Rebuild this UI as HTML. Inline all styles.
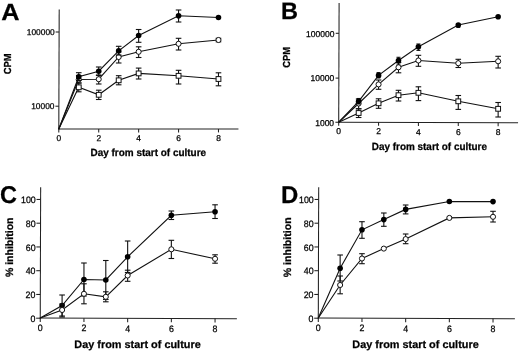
<!DOCTYPE html>
<html><head><meta charset="utf-8"><title>Figure</title>
<style>
html,body{margin:0;padding:0;background:#fff;overflow:hidden;}
svg{display:block;filter:grayscale(1);}
text{font-family:"Liberation Sans",sans-serif;fill:#000;stroke:#000;stroke-width:0.25px;text-rendering:geometricPrecision;}
</style></head><body>
<svg width="520" height="352" viewBox="0 0 520 352">
<rect x="0" y="0" width="520" height="352" fill="#fff"/>
<line x1="59.2" y1="9.5" x2="58.8" y2="129.6" stroke="#222" stroke-width="1.05"/>
<line x1="58.2" y1="129" x2="238.44" y2="129" stroke="#222" stroke-width="1.05"/>
<line x1="58.8" y1="129" x2="58.8" y2="132.4" stroke="#222" stroke-width="1.05"/>
<text x="58.8" y="140.6" font-size="8.4" text-anchor="middle">0</text>
<line x1="98.72" y1="129" x2="98.72" y2="132.4" stroke="#222" stroke-width="1.05"/>
<text x="98.72" y="140.6" font-size="8.4" text-anchor="middle">2</text>
<line x1="138.64" y1="129" x2="138.64" y2="132.4" stroke="#222" stroke-width="1.05"/>
<text x="138.64" y="140.6" font-size="8.4" text-anchor="middle">4</text>
<line x1="178.56" y1="129" x2="178.56" y2="132.4" stroke="#222" stroke-width="1.05"/>
<text x="178.56" y="140.6" font-size="8.4" text-anchor="middle">6</text>
<line x1="218.48" y1="129" x2="218.48" y2="132.4" stroke="#222" stroke-width="1.05"/>
<text x="218.48" y="140.6" font-size="8.4" text-anchor="middle">8</text>
<line x1="55.62" y1="32" x2="59.12" y2="32" stroke="#222" stroke-width="1.05"/>
<text x="54.72" y="35.12" font-size="8.4" text-anchor="end">100000</text>
<line x1="55.38" y1="106.2" x2="58.88" y2="106.2" stroke="#222" stroke-width="1.05"/>
<text x="54.48" y="109.32" font-size="8.4" text-anchor="end">10000</text>
<text x="148.3" y="156" font-size="10.4" text-anchor="middle" font-weight="bold" textLength="115.6" lengthAdjust="spacingAndGlyphs">Day from start of culture</text>
<text x="11.1" y="63.75" font-size="10.2" text-anchor="middle" font-weight="bold" transform="rotate(-90 11.1 63.75)" textLength="20.8" lengthAdjust="spacingAndGlyphs">CPM</text>
<text x="1.2" y="19.6" font-size="23.4" text-anchor="start" font-weight="bold" textLength="18.3" lengthAdjust="spacingAndGlyphs" stroke-width="0.8">A</text>
<polyline points="58.8,129 78.76,87.3 98.72,94.8 118.68,80.3 138.64,73.4 178.56,75.8 218.48,79" fill="none" stroke="#111" stroke-width="1.1"/>
<line x1="78.76" y1="83" x2="78.76" y2="91.8" stroke="#111" stroke-width="1.1"/>
<line x1="75.96" y1="83" x2="81.56" y2="83" stroke="#111" stroke-width="1.1"/>
<line x1="75.96" y1="91.8" x2="81.56" y2="91.8" stroke="#111" stroke-width="1.1"/>
<line x1="98.72" y1="90.2" x2="98.72" y2="99.5" stroke="#111" stroke-width="1.1"/>
<line x1="95.92" y1="90.2" x2="101.52" y2="90.2" stroke="#111" stroke-width="1.1"/>
<line x1="95.92" y1="99.5" x2="101.52" y2="99.5" stroke="#111" stroke-width="1.1"/>
<line x1="118.68" y1="75.7" x2="118.68" y2="84.8" stroke="#111" stroke-width="1.1"/>
<line x1="115.88" y1="75.7" x2="121.48" y2="75.7" stroke="#111" stroke-width="1.1"/>
<line x1="115.88" y1="84.8" x2="121.48" y2="84.8" stroke="#111" stroke-width="1.1"/>
<line x1="138.64" y1="68.1" x2="138.64" y2="79" stroke="#111" stroke-width="1.1"/>
<line x1="135.84" y1="68.1" x2="141.44" y2="68.1" stroke="#111" stroke-width="1.1"/>
<line x1="135.84" y1="79" x2="141.44" y2="79" stroke="#111" stroke-width="1.1"/>
<line x1="178.56" y1="70.3" x2="178.56" y2="84" stroke="#111" stroke-width="1.1"/>
<line x1="175.76" y1="70.3" x2="181.36" y2="70.3" stroke="#111" stroke-width="1.1"/>
<line x1="175.76" y1="84" x2="181.36" y2="84" stroke="#111" stroke-width="1.1"/>
<line x1="218.48" y1="72.8" x2="218.48" y2="85.8" stroke="#111" stroke-width="1.1"/>
<line x1="215.68" y1="72.8" x2="221.28" y2="72.8" stroke="#111" stroke-width="1.1"/>
<line x1="215.68" y1="85.8" x2="221.28" y2="85.8" stroke="#111" stroke-width="1.1"/>
<rect x="76.36" y="84.9" width="4.8" height="4.8" fill="#fff" stroke="#111" stroke-width="1"/>
<rect x="96.32" y="92.4" width="4.8" height="4.8" fill="#fff" stroke="#111" stroke-width="1"/>
<rect x="116.28" y="77.9" width="4.8" height="4.8" fill="#fff" stroke="#111" stroke-width="1"/>
<rect x="136.24" y="71" width="4.8" height="4.8" fill="#fff" stroke="#111" stroke-width="1"/>
<rect x="176.16" y="73.4" width="4.8" height="4.8" fill="#fff" stroke="#111" stroke-width="1"/>
<rect x="216.08" y="76.6" width="4.8" height="4.8" fill="#fff" stroke="#111" stroke-width="1"/>
<polyline points="58.8,129 78.76,79.5 98.72,79.2 118.68,57 138.64,51.8 178.56,43.8 218.48,40" fill="none" stroke="#111" stroke-width="1.1"/>
<line x1="78.76" y1="75.5" x2="78.76" y2="83" stroke="#111" stroke-width="1.1"/>
<line x1="75.96" y1="75.5" x2="81.56" y2="75.5" stroke="#111" stroke-width="1.1"/>
<line x1="75.96" y1="83" x2="81.56" y2="83" stroke="#111" stroke-width="1.1"/>
<line x1="98.72" y1="75" x2="98.72" y2="84" stroke="#111" stroke-width="1.1"/>
<line x1="95.92" y1="75" x2="101.52" y2="75" stroke="#111" stroke-width="1.1"/>
<line x1="95.92" y1="84" x2="101.52" y2="84" stroke="#111" stroke-width="1.1"/>
<line x1="118.68" y1="52" x2="118.68" y2="63" stroke="#111" stroke-width="1.1"/>
<line x1="115.88" y1="52" x2="121.48" y2="52" stroke="#111" stroke-width="1.1"/>
<line x1="115.88" y1="63" x2="121.48" y2="63" stroke="#111" stroke-width="1.1"/>
<line x1="138.64" y1="46.8" x2="138.64" y2="57.5" stroke="#111" stroke-width="1.1"/>
<line x1="135.84" y1="46.8" x2="141.44" y2="46.8" stroke="#111" stroke-width="1.1"/>
<line x1="135.84" y1="57.5" x2="141.44" y2="57.5" stroke="#111" stroke-width="1.1"/>
<line x1="178.56" y1="38.3" x2="178.56" y2="50" stroke="#111" stroke-width="1.1"/>
<line x1="175.76" y1="38.3" x2="181.36" y2="38.3" stroke="#111" stroke-width="1.1"/>
<line x1="175.76" y1="50" x2="181.36" y2="50" stroke="#111" stroke-width="1.1"/>
<line x1="218.48" y1="38.3" x2="218.48" y2="41.8" stroke="#111" stroke-width="1.1"/>
<line x1="215.68" y1="38.3" x2="221.28" y2="38.3" stroke="#111" stroke-width="1.1"/>
<line x1="215.68" y1="41.8" x2="221.28" y2="41.8" stroke="#111" stroke-width="1.1"/>
<circle cx="78.76" cy="79.5" r="2.55" fill="#fff" stroke="#111" stroke-width="1"/>
<circle cx="98.72" cy="79.2" r="2.55" fill="#fff" stroke="#111" stroke-width="1"/>
<circle cx="118.68" cy="57" r="2.55" fill="#fff" stroke="#111" stroke-width="1"/>
<circle cx="138.64" cy="51.8" r="2.55" fill="#fff" stroke="#111" stroke-width="1"/>
<circle cx="178.56" cy="43.8" r="2.55" fill="#fff" stroke="#111" stroke-width="1"/>
<circle cx="218.48" cy="40" r="2.55" fill="#fff" stroke="#111" stroke-width="1"/>
<polyline points="58.8,129 78.76,76.8 98.72,71.2 118.68,50.8 138.64,35.5 178.56,15.8 218.48,17.5" fill="none" stroke="#111" stroke-width="1.1"/>
<line x1="78.76" y1="72.7" x2="78.76" y2="80.5" stroke="#111" stroke-width="1.1"/>
<line x1="75.96" y1="72.7" x2="81.56" y2="72.7" stroke="#111" stroke-width="1.1"/>
<line x1="75.96" y1="80.5" x2="81.56" y2="80.5" stroke="#111" stroke-width="1.1"/>
<line x1="98.72" y1="67" x2="98.72" y2="75.5" stroke="#111" stroke-width="1.1"/>
<line x1="95.92" y1="67" x2="101.52" y2="67" stroke="#111" stroke-width="1.1"/>
<line x1="95.92" y1="75.5" x2="101.52" y2="75.5" stroke="#111" stroke-width="1.1"/>
<line x1="118.68" y1="46.3" x2="118.68" y2="55" stroke="#111" stroke-width="1.1"/>
<line x1="115.88" y1="46.3" x2="121.48" y2="46.3" stroke="#111" stroke-width="1.1"/>
<line x1="115.88" y1="55" x2="121.48" y2="55" stroke="#111" stroke-width="1.1"/>
<line x1="138.64" y1="29.5" x2="138.64" y2="42.3" stroke="#111" stroke-width="1.1"/>
<line x1="135.84" y1="29.5" x2="141.44" y2="29.5" stroke="#111" stroke-width="1.1"/>
<line x1="135.84" y1="42.3" x2="141.44" y2="42.3" stroke="#111" stroke-width="1.1"/>
<line x1="178.56" y1="10" x2="178.56" y2="22" stroke="#111" stroke-width="1.1"/>
<line x1="175.76" y1="10" x2="181.36" y2="10" stroke="#111" stroke-width="1.1"/>
<line x1="175.76" y1="22" x2="181.36" y2="22" stroke="#111" stroke-width="1.1"/>
<circle cx="78.76" cy="76.8" r="2.8" fill="#000"/>
<circle cx="98.72" cy="71.2" r="2.8" fill="#000"/>
<circle cx="118.68" cy="50.8" r="2.8" fill="#000"/>
<circle cx="138.64" cy="35.5" r="2.8" fill="#000"/>
<circle cx="178.56" cy="15.8" r="2.8" fill="#000"/>
<circle cx="218.48" cy="17.5" r="2.8" fill="#000"/>
<line x1="339.1" y1="3" x2="338.7" y2="122.85" stroke="#222" stroke-width="1.05"/>
<line x1="338.1" y1="122.25" x2="518.07" y2="122.8" stroke="#222" stroke-width="1.05"/>
<line x1="338.7" y1="122.25" x2="338.7" y2="125.65" stroke="#222" stroke-width="1.05"/>
<text x="338.7" y="134.3" font-size="8.5" text-anchor="middle">0</text>
<line x1="378.56" y1="122.37" x2="378.56" y2="125.77" stroke="#222" stroke-width="1.05"/>
<text x="378.56" y="134.45" font-size="8.5" text-anchor="middle">2</text>
<line x1="418.42" y1="122.49" x2="418.42" y2="125.89" stroke="#222" stroke-width="1.05"/>
<text x="418.42" y="134.6" font-size="8.5" text-anchor="middle">4</text>
<line x1="458.28" y1="122.62" x2="458.28" y2="126.02" stroke="#222" stroke-width="1.05"/>
<text x="458.28" y="134.75" font-size="8.5" text-anchor="middle">6</text>
<line x1="498.14" y1="122.74" x2="498.14" y2="126.14" stroke="#222" stroke-width="1.05"/>
<text x="498.14" y="134.9" font-size="8.5" text-anchor="middle">8</text>
<line x1="335.7" y1="33.3" x2="339" y2="33.3" stroke="#222" stroke-width="1.05"/>
<text x="334.4" y="36.66" font-size="8.5" text-anchor="end">100000</text>
<line x1="335.55" y1="78.1" x2="338.85" y2="78.1" stroke="#222" stroke-width="1.05"/>
<text x="334.25" y="81.46" font-size="8.5" text-anchor="end">10000</text>
<line x1="335.4" y1="122.25" x2="338.7" y2="122.25" stroke="#222" stroke-width="1.05"/>
<text x="334.1" y="125.61" font-size="8.5" text-anchor="end">1000</text>
<text x="429.4" y="150" font-size="10.4" text-anchor="middle" font-weight="bold" textLength="115.2" lengthAdjust="spacingAndGlyphs">Day from start of culture</text>
<text x="290.5" y="57.3" font-size="10.2" text-anchor="middle" font-weight="bold" transform="rotate(-90 290.5 57.3)" textLength="20.8" lengthAdjust="spacingAndGlyphs">CPM</text>
<text x="280.9" y="19.1" font-size="23.8" text-anchor="start" font-weight="bold" textLength="17" lengthAdjust="spacingAndGlyphs" stroke-width="0.8">B</text>
<polyline points="338.7,122.25 358.63,113 378.56,103.3 398.49,95.2 418.42,92.8 458.28,101.3 498.14,108.8" fill="none" stroke="#111" stroke-width="1.1"/>
<line x1="358.63" y1="108.8" x2="358.63" y2="117.5" stroke="#111" stroke-width="1.1"/>
<line x1="355.83" y1="108.8" x2="361.43" y2="108.8" stroke="#111" stroke-width="1.1"/>
<line x1="355.83" y1="117.5" x2="361.43" y2="117.5" stroke="#111" stroke-width="1.1"/>
<line x1="378.56" y1="98.8" x2="378.56" y2="108.3" stroke="#111" stroke-width="1.1"/>
<line x1="375.76" y1="98.8" x2="381.36" y2="98.8" stroke="#111" stroke-width="1.1"/>
<line x1="375.76" y1="108.3" x2="381.36" y2="108.3" stroke="#111" stroke-width="1.1"/>
<line x1="398.49" y1="90.3" x2="398.49" y2="101" stroke="#111" stroke-width="1.1"/>
<line x1="395.69" y1="90.3" x2="401.29" y2="90.3" stroke="#111" stroke-width="1.1"/>
<line x1="395.69" y1="101" x2="401.29" y2="101" stroke="#111" stroke-width="1.1"/>
<line x1="418.42" y1="86.8" x2="418.42" y2="100.6" stroke="#111" stroke-width="1.1"/>
<line x1="415.62" y1="86.8" x2="421.22" y2="86.8" stroke="#111" stroke-width="1.1"/>
<line x1="415.62" y1="100.6" x2="421.22" y2="100.6" stroke="#111" stroke-width="1.1"/>
<line x1="458.28" y1="95.5" x2="458.28" y2="109.4" stroke="#111" stroke-width="1.1"/>
<line x1="455.48" y1="95.5" x2="461.08" y2="95.5" stroke="#111" stroke-width="1.1"/>
<line x1="455.48" y1="109.4" x2="461.08" y2="109.4" stroke="#111" stroke-width="1.1"/>
<line x1="498.14" y1="102.5" x2="498.14" y2="117" stroke="#111" stroke-width="1.1"/>
<line x1="495.34" y1="102.5" x2="500.94" y2="102.5" stroke="#111" stroke-width="1.1"/>
<line x1="495.34" y1="117" x2="500.94" y2="117" stroke="#111" stroke-width="1.1"/>
<rect x="356.23" y="110.6" width="4.8" height="4.8" fill="#fff" stroke="#111" stroke-width="1"/>
<rect x="376.16" y="100.9" width="4.8" height="4.8" fill="#fff" stroke="#111" stroke-width="1"/>
<rect x="396.09" y="92.8" width="4.8" height="4.8" fill="#fff" stroke="#111" stroke-width="1"/>
<rect x="416.02" y="90.4" width="4.8" height="4.8" fill="#fff" stroke="#111" stroke-width="1"/>
<rect x="455.88" y="98.9" width="4.8" height="4.8" fill="#fff" stroke="#111" stroke-width="1"/>
<rect x="495.74" y="106.4" width="4.8" height="4.8" fill="#fff" stroke="#111" stroke-width="1"/>
<polyline points="338.7,122.25 358.63,103.5 378.56,84.4 398.49,67.3 418.42,60.5 458.28,63.2 498.14,61.3" fill="none" stroke="#111" stroke-width="1.1"/>
<line x1="358.63" y1="99" x2="358.63" y2="108.8" stroke="#111" stroke-width="1.1"/>
<line x1="355.83" y1="99" x2="361.43" y2="99" stroke="#111" stroke-width="1.1"/>
<line x1="355.83" y1="108.8" x2="361.43" y2="108.8" stroke="#111" stroke-width="1.1"/>
<line x1="378.56" y1="80" x2="378.56" y2="89.3" stroke="#111" stroke-width="1.1"/>
<line x1="375.76" y1="80" x2="381.36" y2="80" stroke="#111" stroke-width="1.1"/>
<line x1="375.76" y1="89.3" x2="381.36" y2="89.3" stroke="#111" stroke-width="1.1"/>
<line x1="398.49" y1="62.5" x2="398.49" y2="72.8" stroke="#111" stroke-width="1.1"/>
<line x1="395.69" y1="62.5" x2="401.29" y2="62.5" stroke="#111" stroke-width="1.1"/>
<line x1="395.69" y1="72.8" x2="401.29" y2="72.8" stroke="#111" stroke-width="1.1"/>
<line x1="418.42" y1="55.3" x2="418.42" y2="66.3" stroke="#111" stroke-width="1.1"/>
<line x1="415.62" y1="55.3" x2="421.22" y2="55.3" stroke="#111" stroke-width="1.1"/>
<line x1="415.62" y1="66.3" x2="421.22" y2="66.3" stroke="#111" stroke-width="1.1"/>
<line x1="458.28" y1="59.3" x2="458.28" y2="67.5" stroke="#111" stroke-width="1.1"/>
<line x1="455.48" y1="59.3" x2="461.08" y2="59.3" stroke="#111" stroke-width="1.1"/>
<line x1="455.48" y1="67.5" x2="461.08" y2="67.5" stroke="#111" stroke-width="1.1"/>
<line x1="498.14" y1="56.3" x2="498.14" y2="68" stroke="#111" stroke-width="1.1"/>
<line x1="495.34" y1="56.3" x2="500.94" y2="56.3" stroke="#111" stroke-width="1.1"/>
<line x1="495.34" y1="68" x2="500.94" y2="68" stroke="#111" stroke-width="1.1"/>
<circle cx="358.63" cy="103.5" r="2.55" fill="#fff" stroke="#111" stroke-width="1"/>
<circle cx="378.56" cy="84.4" r="2.55" fill="#fff" stroke="#111" stroke-width="1"/>
<circle cx="398.49" cy="67.3" r="2.55" fill="#fff" stroke="#111" stroke-width="1"/>
<circle cx="418.42" cy="60.5" r="2.55" fill="#fff" stroke="#111" stroke-width="1"/>
<circle cx="458.28" cy="63.2" r="2.55" fill="#fff" stroke="#111" stroke-width="1"/>
<circle cx="498.14" cy="61.3" r="2.55" fill="#fff" stroke="#111" stroke-width="1"/>
<polyline points="338.7,122.25 358.63,101.3 378.56,75.4 398.49,60.5 418.42,46.7 458.28,25 498.14,16.8" fill="none" stroke="#111" stroke-width="1.1"/>
<line x1="358.63" y1="98.5" x2="358.63" y2="104" stroke="#111" stroke-width="1.1"/>
<line x1="356.63" y1="98.5" x2="360.63" y2="98.5" stroke="#111" stroke-width="1.1"/>
<line x1="356.63" y1="104" x2="360.63" y2="104" stroke="#111" stroke-width="1.1"/>
<line x1="378.56" y1="72.6" x2="378.56" y2="77.8" stroke="#111" stroke-width="1.1"/>
<line x1="376.56" y1="72.6" x2="380.56" y2="72.6" stroke="#111" stroke-width="1.1"/>
<line x1="376.56" y1="77.8" x2="380.56" y2="77.8" stroke="#111" stroke-width="1.1"/>
<line x1="398.49" y1="57.3" x2="398.49" y2="64" stroke="#111" stroke-width="1.1"/>
<line x1="396.49" y1="57.3" x2="400.49" y2="57.3" stroke="#111" stroke-width="1.1"/>
<line x1="396.49" y1="64" x2="400.49" y2="64" stroke="#111" stroke-width="1.1"/>
<line x1="418.42" y1="44" x2="418.42" y2="50.4" stroke="#111" stroke-width="1.1"/>
<line x1="416.42" y1="44" x2="420.42" y2="44" stroke="#111" stroke-width="1.1"/>
<line x1="416.42" y1="50.4" x2="420.42" y2="50.4" stroke="#111" stroke-width="1.1"/>
<line x1="458.28" y1="24" x2="458.28" y2="27.4" stroke="#111" stroke-width="1.1"/>
<line x1="456.28" y1="24" x2="460.28" y2="24" stroke="#111" stroke-width="1.1"/>
<line x1="456.28" y1="27.4" x2="460.28" y2="27.4" stroke="#111" stroke-width="1.1"/>
<circle cx="358.63" cy="101.3" r="2.8" fill="#000"/>
<circle cx="378.56" cy="75.4" r="2.8" fill="#000"/>
<circle cx="398.49" cy="60.5" r="2.8" fill="#000"/>
<circle cx="418.42" cy="46.7" r="2.8" fill="#000"/>
<circle cx="458.28" cy="25" r="2.8" fill="#000"/>
<circle cx="498.14" cy="16.8" r="2.8" fill="#000"/>
<line x1="40.65" y1="187.3" x2="40.25" y2="318.6" stroke="#222" stroke-width="1.05"/>
<line x1="39.65" y1="318" x2="236.9" y2="318.7" stroke="#222" stroke-width="1.05"/>
<line x1="40.25" y1="318" x2="40.25" y2="321.9" stroke="#222" stroke-width="1.05"/>
<text x="40.25" y="331.3" font-size="9.3" text-anchor="middle" textLength="4.91" lengthAdjust="spacingAndGlyphs">0</text>
<line x1="83.95" y1="318.16" x2="83.95" y2="322.06" stroke="#222" stroke-width="1.05"/>
<text x="83.95" y="331.45" font-size="9.3" text-anchor="middle" textLength="4.91" lengthAdjust="spacingAndGlyphs">2</text>
<line x1="127.65" y1="318.31" x2="127.65" y2="322.21" stroke="#222" stroke-width="1.05"/>
<text x="127.65" y="331.6" font-size="9.3" text-anchor="middle" textLength="4.91" lengthAdjust="spacingAndGlyphs">4</text>
<line x1="171.35" y1="318.47" x2="171.35" y2="322.37" stroke="#222" stroke-width="1.05"/>
<text x="171.35" y="331.75" font-size="9.3" text-anchor="middle" textLength="4.91" lengthAdjust="spacingAndGlyphs">6</text>
<line x1="215.05" y1="318.62" x2="215.05" y2="322.52" stroke="#222" stroke-width="1.05"/>
<text x="215.05" y="331.9" font-size="9.3" text-anchor="middle" textLength="4.91" lengthAdjust="spacingAndGlyphs">8</text>
<line x1="36.15" y1="318.2" x2="40.25" y2="318.2" stroke="#222" stroke-width="1.05"/>
<text x="35.35" y="321.9" font-size="9.3" text-anchor="end" textLength="4.91" lengthAdjust="spacingAndGlyphs">0</text>
<line x1="36.22" y1="294.45" x2="40.32" y2="294.45" stroke="#222" stroke-width="1.05"/>
<text x="35.42" y="298.15" font-size="9.3" text-anchor="end" textLength="9.82" lengthAdjust="spacingAndGlyphs">20</text>
<line x1="36.29" y1="270.7" x2="40.39" y2="270.7" stroke="#222" stroke-width="1.05"/>
<text x="35.49" y="274.4" font-size="9.3" text-anchor="end" textLength="9.82" lengthAdjust="spacingAndGlyphs">40</text>
<line x1="36.37" y1="246.95" x2="40.47" y2="246.95" stroke="#222" stroke-width="1.05"/>
<text x="35.57" y="250.65" font-size="9.3" text-anchor="end" textLength="9.82" lengthAdjust="spacingAndGlyphs">60</text>
<line x1="36.44" y1="223.2" x2="40.54" y2="223.2" stroke="#222" stroke-width="1.05"/>
<text x="35.64" y="226.9" font-size="9.3" text-anchor="end" textLength="9.82" lengthAdjust="spacingAndGlyphs">80</text>
<line x1="36.51" y1="199.45" x2="40.61" y2="199.45" stroke="#222" stroke-width="1.05"/>
<text x="35.71" y="203.15" font-size="9.3" text-anchor="end" textLength="14.74" lengthAdjust="spacingAndGlyphs">100</text>
<text x="137.5" y="347.6" font-size="10.8" text-anchor="middle" font-weight="bold" textLength="126.4" lengthAdjust="spacingAndGlyphs">Day from start of culture</text>
<text x="13.5" y="247.3" font-size="10.6" text-anchor="middle" font-weight="bold" transform="rotate(-90 13.5 247.3)" textLength="59.6" lengthAdjust="spacingAndGlyphs">% inhibition</text>
<text x="0" y="203" font-size="24.2" text-anchor="start" font-weight="bold" textLength="17" lengthAdjust="spacingAndGlyphs" stroke-width="0.8">C</text>
<polyline points="40.25,318 62.1,305.5 83.95,279.5 105.8,280 127.65,256.8 171.35,215.3 215.05,211.8" fill="none" stroke="#111" stroke-width="1.1"/>
<line x1="62.1" y1="295" x2="62.1" y2="316" stroke="#111" stroke-width="1.1"/>
<line x1="59.3" y1="295" x2="64.9" y2="295" stroke="#111" stroke-width="1.1"/>
<line x1="59.3" y1="316" x2="64.9" y2="316" stroke="#111" stroke-width="1.1"/>
<line x1="83.95" y1="263" x2="83.95" y2="296" stroke="#111" stroke-width="1.1"/>
<line x1="81.15" y1="263" x2="86.75" y2="263" stroke="#111" stroke-width="1.1"/>
<line x1="81.15" y1="296" x2="86.75" y2="296" stroke="#111" stroke-width="1.1"/>
<line x1="105.8" y1="260.5" x2="105.8" y2="299.5" stroke="#111" stroke-width="1.1"/>
<line x1="103" y1="260.5" x2="108.6" y2="260.5" stroke="#111" stroke-width="1.1"/>
<line x1="103" y1="299.5" x2="108.6" y2="299.5" stroke="#111" stroke-width="1.1"/>
<line x1="127.65" y1="241" x2="127.65" y2="272.5" stroke="#111" stroke-width="1.1"/>
<line x1="124.85" y1="241" x2="130.45" y2="241" stroke="#111" stroke-width="1.1"/>
<line x1="124.85" y1="272.5" x2="130.45" y2="272.5" stroke="#111" stroke-width="1.1"/>
<line x1="171.35" y1="211" x2="171.35" y2="219.5" stroke="#111" stroke-width="1.1"/>
<line x1="168.55" y1="211" x2="174.15" y2="211" stroke="#111" stroke-width="1.1"/>
<line x1="168.55" y1="219.5" x2="174.15" y2="219.5" stroke="#111" stroke-width="1.1"/>
<line x1="215.05" y1="204.8" x2="215.05" y2="218.5" stroke="#111" stroke-width="1.1"/>
<line x1="212.25" y1="204.8" x2="217.85" y2="204.8" stroke="#111" stroke-width="1.1"/>
<line x1="212.25" y1="218.5" x2="217.85" y2="218.5" stroke="#111" stroke-width="1.1"/>
<circle cx="62.1" cy="305.5" r="2.8" fill="#000"/>
<circle cx="83.95" cy="279.5" r="2.8" fill="#000"/>
<circle cx="105.8" cy="280" r="2.8" fill="#000"/>
<circle cx="127.65" cy="256.8" r="2.8" fill="#000"/>
<circle cx="171.35" cy="215.3" r="2.8" fill="#000"/>
<circle cx="215.05" cy="211.8" r="2.8" fill="#000"/>
<polyline points="40.25,318 62.1,310 83.95,293.8 105.8,296.8 127.65,275.5 171.35,249.3 215.05,258.8" fill="none" stroke="#111" stroke-width="1.1"/>
<line x1="62.1" y1="304" x2="62.1" y2="317" stroke="#111" stroke-width="1.1"/>
<line x1="59.3" y1="304" x2="64.9" y2="304" stroke="#111" stroke-width="1.1"/>
<line x1="59.3" y1="317" x2="64.9" y2="317" stroke="#111" stroke-width="1.1"/>
<line x1="83.95" y1="283.8" x2="83.95" y2="303.8" stroke="#111" stroke-width="1.1"/>
<line x1="81.15" y1="283.8" x2="86.75" y2="283.8" stroke="#111" stroke-width="1.1"/>
<line x1="81.15" y1="303.8" x2="86.75" y2="303.8" stroke="#111" stroke-width="1.1"/>
<line x1="105.8" y1="291.8" x2="105.8" y2="301.8" stroke="#111" stroke-width="1.1"/>
<line x1="103" y1="291.8" x2="108.6" y2="291.8" stroke="#111" stroke-width="1.1"/>
<line x1="103" y1="301.8" x2="108.6" y2="301.8" stroke="#111" stroke-width="1.1"/>
<line x1="127.65" y1="270.2" x2="127.65" y2="281.3" stroke="#111" stroke-width="1.1"/>
<line x1="124.85" y1="270.2" x2="130.45" y2="270.2" stroke="#111" stroke-width="1.1"/>
<line x1="124.85" y1="281.3" x2="130.45" y2="281.3" stroke="#111" stroke-width="1.1"/>
<line x1="171.35" y1="240.3" x2="171.35" y2="258.5" stroke="#111" stroke-width="1.1"/>
<line x1="168.55" y1="240.3" x2="174.15" y2="240.3" stroke="#111" stroke-width="1.1"/>
<line x1="168.55" y1="258.5" x2="174.15" y2="258.5" stroke="#111" stroke-width="1.1"/>
<line x1="215.05" y1="254.8" x2="215.05" y2="263.2" stroke="#111" stroke-width="1.1"/>
<line x1="212.25" y1="254.8" x2="217.85" y2="254.8" stroke="#111" stroke-width="1.1"/>
<line x1="212.25" y1="263.2" x2="217.85" y2="263.2" stroke="#111" stroke-width="1.1"/>
<circle cx="62.1" cy="310" r="2.55" fill="#fff" stroke="#111" stroke-width="1"/>
<circle cx="83.95" cy="293.8" r="2.55" fill="#fff" stroke="#111" stroke-width="1"/>
<circle cx="105.8" cy="296.8" r="2.55" fill="#fff" stroke="#111" stroke-width="1"/>
<circle cx="127.65" cy="275.5" r="2.55" fill="#fff" stroke="#111" stroke-width="1"/>
<circle cx="171.35" cy="249.3" r="2.55" fill="#fff" stroke="#111" stroke-width="1"/>
<circle cx="215.05" cy="258.8" r="2.55" fill="#fff" stroke="#111" stroke-width="1"/>
<line x1="318.7" y1="187.3" x2="318.3" y2="318.6" stroke="#222" stroke-width="1.05"/>
<line x1="317.7" y1="318" x2="514.86" y2="318.7" stroke="#222" stroke-width="1.05"/>
<line x1="318.3" y1="318" x2="318.3" y2="321.9" stroke="#222" stroke-width="1.05"/>
<text x="318.3" y="331.3" font-size="9.3" text-anchor="middle" textLength="4.91" lengthAdjust="spacingAndGlyphs">0</text>
<line x1="361.98" y1="318.16" x2="361.98" y2="322.06" stroke="#222" stroke-width="1.05"/>
<text x="361.98" y="331.45" font-size="9.3" text-anchor="middle" textLength="4.91" lengthAdjust="spacingAndGlyphs">2</text>
<line x1="405.66" y1="318.31" x2="405.66" y2="322.21" stroke="#222" stroke-width="1.05"/>
<text x="405.66" y="331.6" font-size="9.3" text-anchor="middle" textLength="4.91" lengthAdjust="spacingAndGlyphs">4</text>
<line x1="449.34" y1="318.47" x2="449.34" y2="322.37" stroke="#222" stroke-width="1.05"/>
<text x="449.34" y="331.75" font-size="9.3" text-anchor="middle" textLength="4.91" lengthAdjust="spacingAndGlyphs">6</text>
<line x1="493.02" y1="318.62" x2="493.02" y2="322.52" stroke="#222" stroke-width="1.05"/>
<text x="493.02" y="331.9" font-size="9.3" text-anchor="middle" textLength="4.91" lengthAdjust="spacingAndGlyphs">8</text>
<line x1="314.2" y1="318.2" x2="318.3" y2="318.2" stroke="#222" stroke-width="1.05"/>
<text x="313.4" y="321.9" font-size="9.3" text-anchor="end" textLength="4.91" lengthAdjust="spacingAndGlyphs">0</text>
<line x1="314.27" y1="294.45" x2="318.37" y2="294.45" stroke="#222" stroke-width="1.05"/>
<text x="313.47" y="298.15" font-size="9.3" text-anchor="end" textLength="9.82" lengthAdjust="spacingAndGlyphs">20</text>
<line x1="314.34" y1="270.7" x2="318.44" y2="270.7" stroke="#222" stroke-width="1.05"/>
<text x="313.54" y="274.4" font-size="9.3" text-anchor="end" textLength="9.82" lengthAdjust="spacingAndGlyphs">40</text>
<line x1="314.42" y1="246.95" x2="318.52" y2="246.95" stroke="#222" stroke-width="1.05"/>
<text x="313.62" y="250.65" font-size="9.3" text-anchor="end" textLength="9.82" lengthAdjust="spacingAndGlyphs">60</text>
<line x1="314.49" y1="223.2" x2="318.59" y2="223.2" stroke="#222" stroke-width="1.05"/>
<text x="313.69" y="226.9" font-size="9.3" text-anchor="end" textLength="9.82" lengthAdjust="spacingAndGlyphs">80</text>
<line x1="314.56" y1="199.45" x2="318.66" y2="199.45" stroke="#222" stroke-width="1.05"/>
<text x="313.76" y="203.15" font-size="9.3" text-anchor="end" textLength="14.74" lengthAdjust="spacingAndGlyphs">100</text>
<text x="415.5" y="347.5" font-size="10.8" text-anchor="middle" font-weight="bold" textLength="126.4" lengthAdjust="spacingAndGlyphs">Day from start of culture</text>
<text x="291.1" y="247.3" font-size="10.6" text-anchor="middle" font-weight="bold" transform="rotate(-90 291.1 247.3)" textLength="59.8" lengthAdjust="spacingAndGlyphs">% inhibition</text>
<text x="281" y="203" font-size="24.2" text-anchor="start" font-weight="bold" textLength="17.3" lengthAdjust="spacingAndGlyphs" stroke-width="0.8">D</text>
<polyline points="318.3,318 340.14,285 361.98,258.5 383.82,248.6 405.66,239.1 449.34,217.9 493.02,216.8" fill="none" stroke="#111" stroke-width="1.1"/>
<line x1="340.14" y1="276" x2="340.14" y2="293.8" stroke="#111" stroke-width="1.1"/>
<line x1="337.34" y1="276" x2="342.94" y2="276" stroke="#111" stroke-width="1.1"/>
<line x1="337.34" y1="293.8" x2="342.94" y2="293.8" stroke="#111" stroke-width="1.1"/>
<line x1="361.98" y1="253.7" x2="361.98" y2="263.7" stroke="#111" stroke-width="1.1"/>
<line x1="359.18" y1="253.7" x2="364.78" y2="253.7" stroke="#111" stroke-width="1.1"/>
<line x1="359.18" y1="263.7" x2="364.78" y2="263.7" stroke="#111" stroke-width="1.1"/>
<line x1="405.66" y1="234" x2="405.66" y2="243.7" stroke="#111" stroke-width="1.1"/>
<line x1="402.86" y1="234" x2="408.46" y2="234" stroke="#111" stroke-width="1.1"/>
<line x1="402.86" y1="243.7" x2="408.46" y2="243.7" stroke="#111" stroke-width="1.1"/>
<line x1="493.02" y1="211.3" x2="493.02" y2="222" stroke="#111" stroke-width="1.1"/>
<line x1="490.22" y1="211.3" x2="495.82" y2="211.3" stroke="#111" stroke-width="1.1"/>
<line x1="490.22" y1="222" x2="495.82" y2="222" stroke="#111" stroke-width="1.1"/>
<circle cx="340.14" cy="285" r="2.55" fill="#fff" stroke="#111" stroke-width="1"/>
<circle cx="361.98" cy="258.5" r="2.55" fill="#fff" stroke="#111" stroke-width="1"/>
<circle cx="383.82" cy="248.6" r="2.55" fill="#fff" stroke="#111" stroke-width="1"/>
<circle cx="405.66" cy="239.1" r="2.55" fill="#fff" stroke="#111" stroke-width="1"/>
<circle cx="449.34" cy="217.9" r="2.55" fill="#fff" stroke="#111" stroke-width="1"/>
<circle cx="493.02" cy="216.8" r="2.55" fill="#fff" stroke="#111" stroke-width="1"/>
<polyline points="318.3,318 340.14,268.2 361.98,229.8 383.82,219.6 405.66,209.4 449.34,201.5 493.02,201.6" fill="none" stroke="#111" stroke-width="1.1"/>
<line x1="340.14" y1="255" x2="340.14" y2="281" stroke="#111" stroke-width="1.1"/>
<line x1="337.34" y1="255" x2="342.94" y2="255" stroke="#111" stroke-width="1.1"/>
<line x1="337.34" y1="281" x2="342.94" y2="281" stroke="#111" stroke-width="1.1"/>
<line x1="361.98" y1="221.7" x2="361.98" y2="238.3" stroke="#111" stroke-width="1.1"/>
<line x1="359.18" y1="221.7" x2="364.78" y2="221.7" stroke="#111" stroke-width="1.1"/>
<line x1="359.18" y1="238.3" x2="364.78" y2="238.3" stroke="#111" stroke-width="1.1"/>
<line x1="383.82" y1="213" x2="383.82" y2="226.3" stroke="#111" stroke-width="1.1"/>
<line x1="381.02" y1="213" x2="386.62" y2="213" stroke="#111" stroke-width="1.1"/>
<line x1="381.02" y1="226.3" x2="386.62" y2="226.3" stroke="#111" stroke-width="1.1"/>
<line x1="405.66" y1="205" x2="405.66" y2="213.9" stroke="#111" stroke-width="1.1"/>
<line x1="402.86" y1="205" x2="408.46" y2="205" stroke="#111" stroke-width="1.1"/>
<line x1="402.86" y1="213.9" x2="408.46" y2="213.9" stroke="#111" stroke-width="1.1"/>
<circle cx="340.14" cy="268.2" r="2.8" fill="#000"/>
<circle cx="361.98" cy="229.8" r="2.8" fill="#000"/>
<circle cx="383.82" cy="219.6" r="2.8" fill="#000"/>
<circle cx="405.66" cy="209.4" r="2.8" fill="#000"/>
<circle cx="449.34" cy="201.5" r="2.8" fill="#000"/>
<circle cx="493.02" cy="201.6" r="2.8" fill="#000"/>
</svg>
</body></html>
